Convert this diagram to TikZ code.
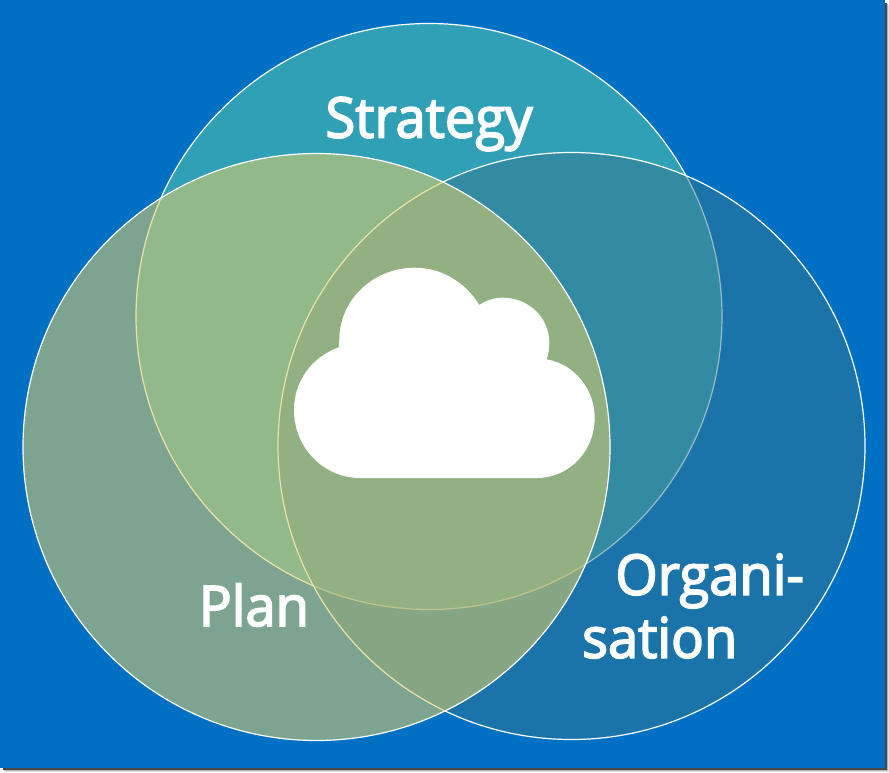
\documentclass[tikz,border=0pt]{standalone}
\usepackage{fontspec}
\setmainfont{Open Sans}[FakeStretch=0.97,FakeBold=3]
\definecolor{panelblue}{RGB}{0,112,197}
\definecolor{stratfill}{RGB}{96,208,171}
\definecolor{orgfill}{RGB}{52,120,144}
\definecolor{planfill}{RGB}{219,205,104}
\tikzset{
  x=0.75pt,y=-0.75pt,
  venn/.style={draw=white,line width=0.9pt,fill opacity=#1,draw opacity=1},
  venn label/.style={text=white,font=\fontsize{42}{47.25}\selectfont,align=left,inner sep=0pt},
}
\begin{document}
\begin{tikzpicture}
  \useasboundingbox (0,0) rectangle (889,772);
  % drop shadow and panel
  \fill[white] (0,0) rectangle (889,772);
  \fill[black!12] (5,5) rectangle (889,772);
  \fill[black!30] (4,4) rectangle (888,771);
  \fill[black!72] (3,3) rectangle (886.5,769.5);
  \fill[panelblue] (0,0) rectangle (885,768);
  % the three overlapping circles, back to front
  \path[venn=.5,fill=stratfill] (429,316.5) circle[radius=293];
  \path[venn=.5,fill=orgfill] (571.5,446) circle[radius=293.5];
  \path[venn=.57,fill=planfill] (316.5,447) circle[radius=293.5];
  % cloud
  \fill[white] (360,478) -- (537,478)
    .. controls (569,478) and (594.7,451) .. (594.7,418)
    .. controls (594.7,389) and (574,364) .. (546.7,359.3)
    .. controls (548.5,354) and (549.3,348.5) .. (549.3,343)
    .. controls (549.3,317) and (528,297.7) .. (503,297.7)
    .. controls (494,297.7) and (486,300.5) .. (479.3,305)
    .. controls (466,283) and (442,267.7) .. (415,267.7)
    .. controls (373,267.7) and (339.3,300) .. (339.3,340)
    -- (338.7,347.3)
    .. controls (312,357) and (294,381) .. (294,410)
    .. controls (294,448) and (324,478) .. (360,478) -- cycle;
  % labels
  \node[venn label] (strategy) at (429,124) {Strategy};
  \node[venn label] (plan) at (254,605) {Plan};
  \node[venn label] (organisation) at (693,606) {\hspace*{25pt}Organi-\\sation};
\end{tikzpicture}
\end{document}
